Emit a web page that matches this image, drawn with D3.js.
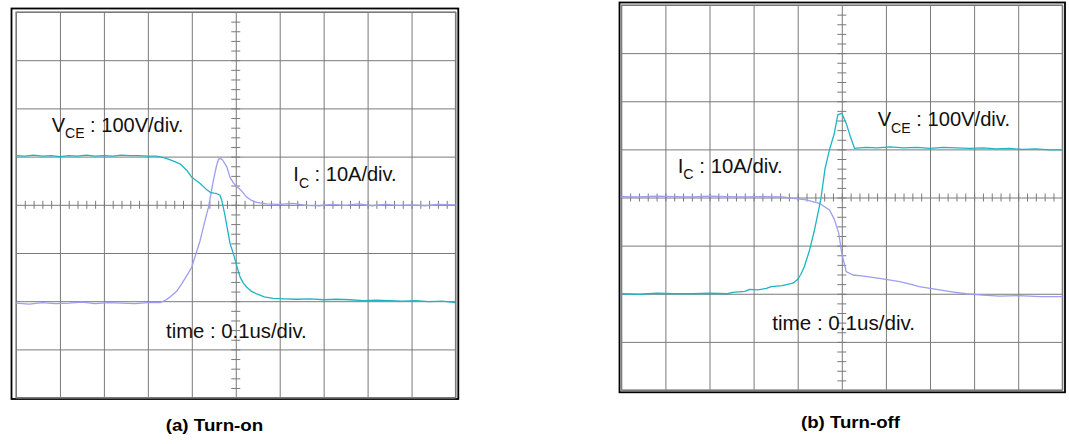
<!DOCTYPE html>
<html>
<head>
<meta charset="utf-8">
<script src="https://cdn.jsdelivr.net/npm/d3@7"></script>
<style>
  body { margin: 0; background: #fff; }
  svg { display: block; font-family: Arial, "Liberation Sans", sans-serif; }
</style>
</head>
<body>
<div id="chart"></div>
<script>
// time and level are both in scope divisions (0 = centre of screen)
var onVceT = [-5, -4.8, -4.6, -4.4, -4.2, -4, -3.8, -3.6, -3.4, -3.2, -3, -2.8, -2.6, -2.4, -2.2, -2, -1.8, -1.6,
  -1.4, -1.27, -1.1, -1.0, -0.81, -0.68, -0.58, -0.5, -0.43, -0.36, -0.32, -0.25, -0.19, -0.13, -0.06, 0, 0.05, 0.1, 0.17, 0.25, 0.35, 0.48, 0.65, 0.85,
  1.1, 1.4, 1.7, 2.0, 2.3, 2.6, 2.9, 3.2, 3.5, 3.8, 4.1, 4.4, 4.7, 5];
var onVceV = [1.02, 1.01, 1.03, 1.01, 1.02, 1.0, 1.02, 1.01, 1.03, 1.01, 1.02, 1.01, 1.03, 1.02, 1.02, 1.01, 1.01, 0.97,
  0.9, 0.85, 0.7, 0.57, 0.44, 0.33, 0.26, 0.24, 0.23, 0.2, 0.1, -0.2, -0.5, -0.8, -1.0, -1.19, -1.35, -1.5, -1.62, -1.71, -1.79, -1.85, -1.91, -1.94,
  -1.95, -1.96, -1.95, -1.97, -1.96, -1.97, -1.99, -1.98, -1.99, -2.0, -1.99, -2.01, -2.0, -2.03];

var onIcT = [-5, -4.7, -4.4, -4.1, -3.8, -3.5, -3.2, -2.9, -2.6, -2.3, -2.0,
  -1.72, -1.6, -1.49, -1.35, -1.23, -1.1, -1.0, -0.9, -0.81, -0.72, -0.62, -0.51, -0.44, -0.39, -0.34, -0.3, -0.2, -0.13, -0.05, 0, 0.12, 0.25, 0.36, 0.48, 0.7,
  1.0, 1.3, 1.6, 1.9, 2.2, 2.5, 2.8, 3.1, 3.4, 3.7, 4.0, 4.3, 4.6, 5];
var onIcV = [-2.04, -2.06, -2.03, -2.05, -2.04, -2.02, -2.05, -2.03, -2.04, -2.05, -2.03,
  -2.03, -1.98, -1.91, -1.8, -1.64, -1.45, -1.29, -1.0, -0.74, -0.4, -0.05, 0.5, 0.8, 0.95, 0.96, 0.93, 0.78, 0.57, 0.45, 0.4, 0.3, 0.16, 0.09, 0.05, 0.02,
  0.01, 0.03, -0.01, -0.02, 0.01, -0.01, 0.02, -0.02, 0.01, -0.01, 0.0, -0.02, 0.01, 0.0];

var offVceT = [-5, -4.6, -4.2, -3.8, -3.4, -3.0, -2.6, -2.47, -2.2, -2.09, -1.9, -1.71, -1.6, -1.35, -1.11, -1.01, -0.93, -0.85, -0.73, -0.62, -0.51, -0.47,
  -0.38, -0.28, -0.17, -0.09, 0, 0.1, 0.2, 0.29, 0.4, 0.55, 0.8, 1.1, 1.4, 1.7, 2.0, 2.3, 2.6, 2.9, 3.2, 3.5, 3.8, 4.1, 4.4, 4.7, 5];
var offVceV = [-2.0, -2.01, -1.99, -2.0, -2.0, -1.99, -2.0, -1.97, -1.95, -1.91, -1.92, -1.89, -1.85, -1.83, -1.78, -1.71, -1.6, -1.44, -1.09, -0.68, -0.19, 0,
  0.6, 0.99, 1.33, 1.72, 1.75, 1.54, 1.25, 1.02, 1.03, 1.04, 1.03, 1.05, 1.03, 1.04, 1.02, 1.04, 1.03, 1.02, 1.03, 1.01, 1.02, 1.0, 1.01, 0.99, 0.99];

var offIcT = [-5, -4.6, -4.2, -3.8, -3.4, -3.0, -2.6, -2.2, -1.8,
  -1.34, -1.1, -0.81, -0.51, -0.28, -0.17, -0.07, 0, 0.1, 0.25, 0.45, 0.7, 1.0, 1.31, 1.55, 1.76, 2.0, 2.22, 2.5, 2.82, 3.2, 3.58, 4.0, 4.5, 5];
var offIcV = [0.02, 0.01, 0.03, 0.02, 0.01, 0.03, 0.02, 0.01, 0.02,
  0.01, -0.02, -0.05, -0.12, -0.26, -0.45, -0.74, -1.16, -1.54, -1.61, -1.63, -1.66, -1.7, -1.75, -1.8, -1.85, -1.89, -1.92, -1.96, -2.0, -2.03, -2.05, -2.04, -2.06, -2.06];

var xDivs = [-5, 5];
var yDivs = [-4, 4];
var captions = ["(a) Turn-on", "(b) Turn-off"];

var vceColor = "#1db5c4";
var icColor = "#9d9df2";

var svg = d3.select("#chart").append("svg")
  .attr("width", 1069)
  .attr("height", 444);

function zip(t, v) {
  return t.map(function (d, i) { return [d, v[i]]; });
}

function drawPanel(p) {
  var g = svg.append("g");

  var x = d3.scaleLinear().domain(xDivs).range([p.left, p.right]);
  var y = d3.scaleLinear().domain(yDivs).range([p.bottom, p.top]);

  // outer black frame
  g.append("rect")
    .attr("x", p.frame[0]).attr("y", p.frame[1])
    .attr("width", p.frame[2] - p.frame[0]).attr("height", p.frame[3] - p.frame[1])
    .attr("fill", "none").attr("stroke", "#000").attr("stroke-width", 1.8);

  // grid
  var gridX = d3.axisBottom(x).tickValues(d3.range(-5, 6)).tickSize(-(p.bottom - p.top)).tickFormat("");
  var gridY = d3.axisLeft(y).tickValues(d3.range(-4, 5)).tickSize(-(p.right - p.left)).tickFormat("");
  g.append("g").attr("class", "grid").attr("transform", "translate(0," + p.bottom + ")").call(gridX);
  g.append("g").attr("class", "grid").attr("transform", "translate(" + p.left + ",0)").call(gridY);
  g.selectAll(".grid .domain").remove();
  g.selectAll(".grid line").attr("stroke", "#7a7a7a").attr("stroke-width", 1);

  // minor ticks on the centre axes
  var minX = d3.axisBottom(x).tickValues(d3.range(-48, 49, 2).map(function (d) { return d / 10; })).tickSize(8).tickFormat("");
  var minY = d3.axisRight(y).tickValues(d3.range(-38, 39, 2).map(function (d) { return d / 10; })).tickSize(9).tickFormat("");
  g.append("g").attr("class", "minor").attr("transform", "translate(0," + (y(0) - 4) + ")").call(minX);
  g.append("g").attr("class", "minor").attr("transform", "translate(" + (x(0) - 4.5) + ",0)").call(minY);
  g.selectAll(".minor .domain").remove();
  g.selectAll(".minor line").attr("stroke", "#7a7a7a").attr("stroke-width", 1);

  // inner frame
  g.append("rect")
    .attr("x", p.left).attr("y", p.top)
    .attr("width", p.right - p.left).attr("height", p.bottom - p.top)
    .attr("fill", "none").attr("stroke", "#7a7a7a").attr("stroke-width", 1.2);

  var line = d3.line().x(function (d) { return x(d[0]); }).y(function (d) { return y(d[1]); });

  p.series.forEach(function (s) {
    g.append("path")
      .datum(zip(s.t, s.v))
      .attr("d", line)
      .attr("fill", "none")
      .attr("stroke", s.color)
      .attr("stroke-width", 1.3)
      .attr("stroke-linejoin", "round");
  });

  // labels
  p.labels.forEach(function (l) {
    var t = g.append("text")
      .attr("x", l.x).attr("y", l.y)
      .attr("font-size", 20)
      .attr("fill", "#111");
    t.append("tspan").text(l.main);
    if (l.sub) {
      t.append("tspan").attr("font-size", 14).attr("dy", 6.5).text(l.sub);
      t.append("tspan").attr("dy", -6.5).text(l.rest);
    }
    t.attr("textLength", l.w).attr("lengthAdjust", "spacingAndGlyphs");
  });

  svg.append("text")
    .attr("x", p.cap[0]).attr("y", p.cap[1])
    .attr("font-size", 16.5).attr("font-weight", "bold")
    .attr("textLength", p.cap[2]).attr("lengthAdjust", "spacingAndGlyphs")
    .text(p.caption);
}

drawPanel({
  left: 16, right: 455.5, top: 12, bottom: 397.6,
  frame: [11.5, 8.5, 458.3, 399],
  series: [
    { t: onIcT, v: onIcV, color: icColor },
    { t: onVceT, v: onVceV, color: vceColor }
  ],
  labels: [
    { x: 51.7, y: 131.7, main: "V", sub: "CE", rest: " : 100V/div.", w: 131.6 },
    { x: 293.3, y: 181, main: "I", sub: "C", rest: " : 10A/div.", w: 103.4 },
    { x: 166, y: 338.3, main: "time : 0.1us/div.", w: 140.7 }
  ],
  cap: [165.7, 431, 97.6],
  caption: captions[0]
});

drawPanel({
  left: 621.3, right: 1062.3, top: 5, bottom: 390,
  frame: [619.5, 2.5, 1065, 392.3],
  series: [
    { t: offIcT, v: offIcV, color: icColor },
    { t: offVceT, v: offVceV, color: vceColor }
  ],
  labels: [
    { x: 877.7, y: 126, main: "V", sub: "CE", rest: " : 100V/div.", w: 132.3 },
    { x: 677.7, y: 172.7, main: "I", sub: "C", rest: " : 10A/div.", w: 105 },
    { x: 772.3, y: 330, main: "time : 0.1us/div.", w: 142.7 }
  ],
  cap: [801, 428, 99],
  caption: captions[1]
});
</script>
</body>
</html>
